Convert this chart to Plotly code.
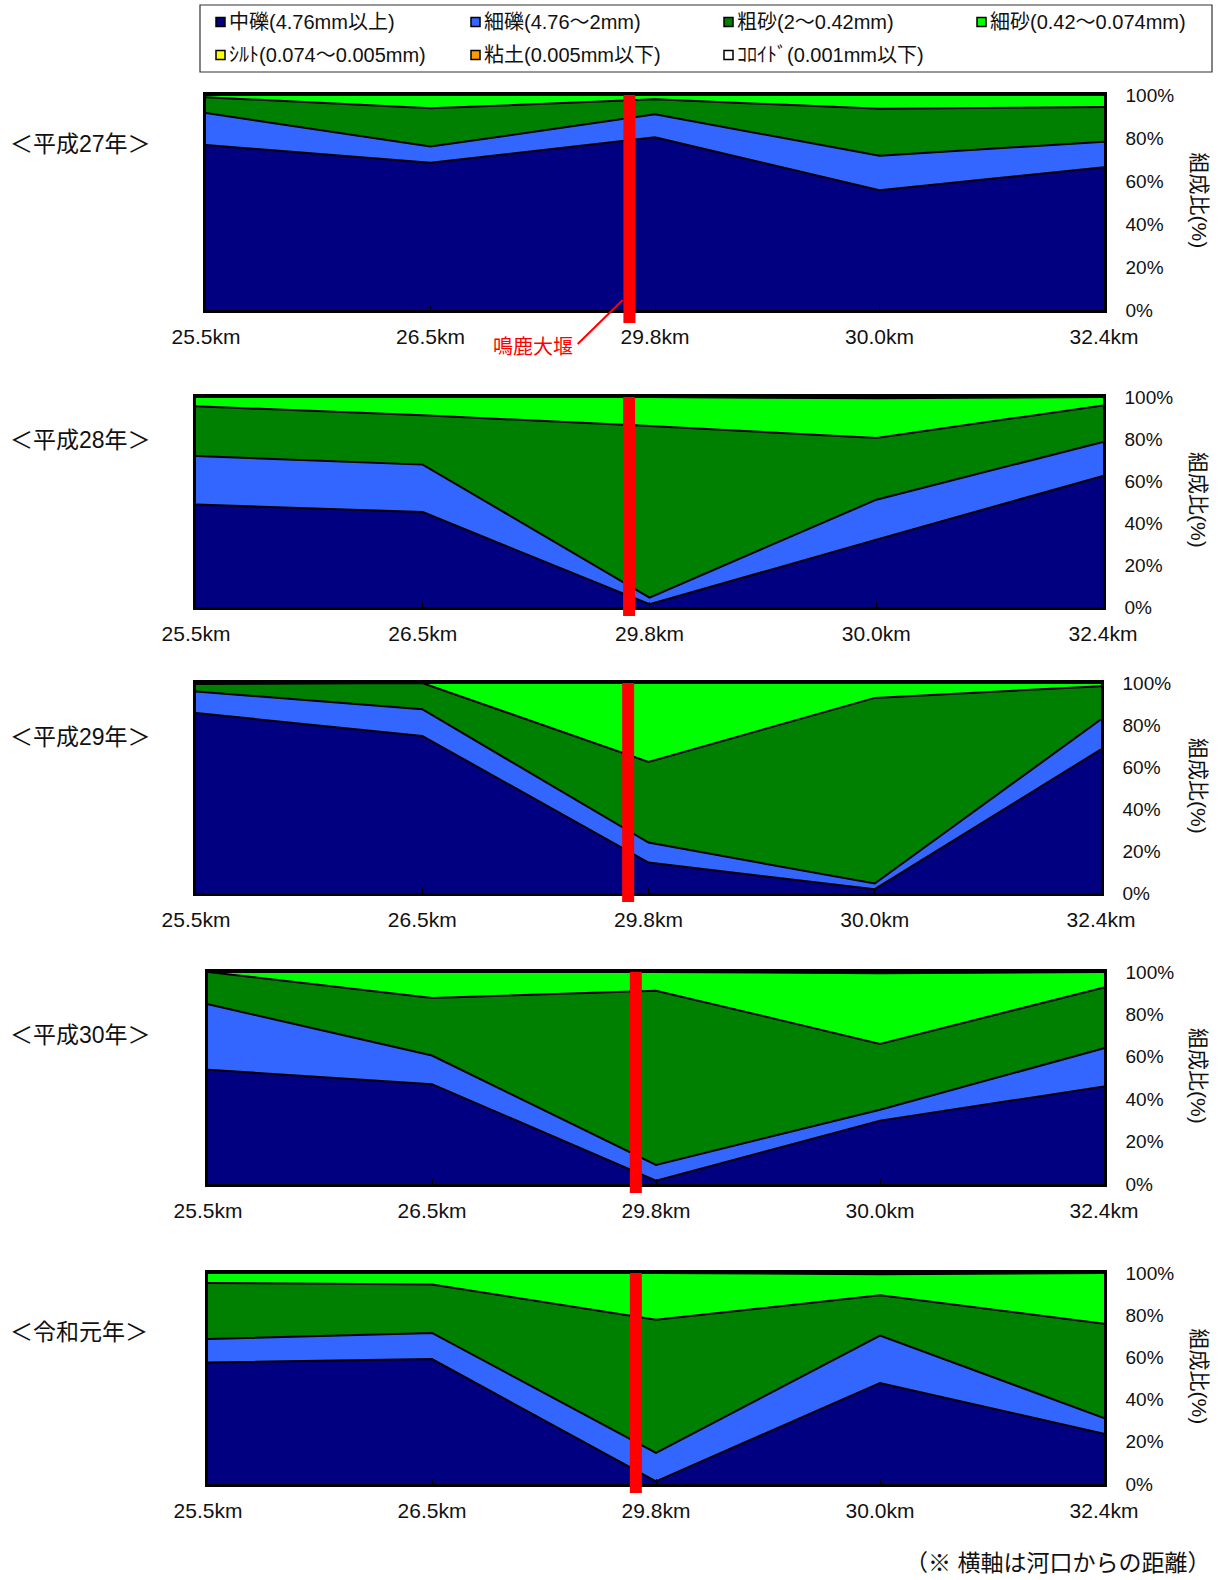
import plotly.graph_objects as go

# ---- data -------------------------------------------------------------
km_labels = ["25.5km", "26.5km", "29.8km", "30.0km", "32.4km"]
year_labels = ["＜平成27年＞", "＜平成28年＞", "＜平成29年＞", "＜平成30年＞", "＜令和元年＞"]

class_names = [
    "中礫(4.76mm以上)",
    "細礫(4.76～2mm)",
    "粗砂(2～0.42mm)",
    "細砂(0.42～0.074mm)",
    "ｼﾙﾄ(0.074～0.005mm)",
    "粘土(0.005mm以下)",
    "ｺﾛｲﾄﾞ(0.001mm以下)",
]
class_colors = ["#000080", "#3366FF", "#008000", "#00FF00", "#FFFF00", "#FF9900", "#FFFFFF"]

# composition (%) per year (H27, H28, H29, H30, R1) at each station
chu_reki = [
    [76.7, 68.5, 80.3, 55.7, 66.4],
    [48.8, 45.2, 1.3, 32.1, 62.4],
    [85.7, 74.8, 14.5, 1.8, 68.4],
    [53.9, 47.1, 1.6, 29.9, 46.0],
    [57.6, 59.2, 1.2, 47.9, 23.8],
]
sai_reki = [
    [14.9, 7.5, 10.7, 16.1, 11.9],
    [23.1, 22.6, 3.2, 19.0, 16.2],
    [10.3, 12.7, 9.5, 2.7, 14.3],
    [30.9, 13.5, 7.4, 5.1, 18.1],
    [11.1, 12.4, 13.5, 22.4, 7.5],
]
so_sa = [
    [7.4, 17.8, 7.0, 21.8, 16.1],
    [23.7, 23.5, 81.7, 29.4, 17.4],
    [3.5, 12.5, 38.4, 88.4, 15.8],
    [15.2, 27.1, 82.2, 31.1, 28.6],
    [26.6, 22.9, 63.2, 19.1, 44.7],
]
sai_sa = [
    [1.0, 6.2, 2.0, 6.4, 5.6],
    [4.4, 8.7, 13.8, 18.9, 4.0],
    [0.5, 0.0, 37.6, 7.1, 1.5],
    [0.0, 12.3, 8.8, 33.3, 7.3],
    [4.7, 5.5, 22.1, 10.0, 24.0],
]
silt = [
    [0, 0, 0, 0, 0],
    [0, 0, 0, 0.6, 0],
    [0, 0, 0, 0, 0],
    [0, 0, 0, 0.6, 0],
    [0, 0, 0, 0.6, 0],
]
clay = [[0, 0, 0, 0, 0] for _ in range(5)]
colloid = [[0, 0, 0, 0, 0] for _ in range(5)]

# position of the 鳴鹿大堰 weir along the category axis (between 26.5km and 29.8km)
weir_pos = [1.886, 1.91, 1.91, 1.91, 1.91]

# ---- layout geometry (pixels) ----------------------------------------
W, H = 1226, 1580
panel_x = [(206, 1104), (196, 1103), (196, 1101), (208, 1104), (208, 1104)]
panel_y = [(95, 310), (397, 607), (683, 893), (972, 1184), (1273, 1484)]
year_label_y = [144, 440, 737, 1035, 1332]

FONT = "Liberation Sans, Noto Sans CJK JP, sans-serif"


def px(x):
    return x / W


def py(y):
    return 1 - y / H


fig = go.Figure()
series = [chu_reki, sai_reki, so_sa, sai_sa, silt, clay, colloid]
xs = list(range(len(km_labels)))

shapes = []
annotations = []

for p in range(5):
    sfx = "" if p == 0 else str(p + 1)
    for c, data in enumerate(series):
        fig.add_trace(
            go.Scatter(
                x=xs,
                y=data[p],
                name=class_names[c],
                stackgroup=f"g{p}",
                mode="lines",
                line=dict(color="black", width=2),
                fillcolor=class_colors[c],
                showlegend=False,
                xaxis="x" + sfx,
                yaxis="y" + sfx,
                hoverinfo="skip",
            )
        )
    x0, x1 = panel_x[p]
    y0, y1 = panel_y[p]
    fig.layout["xaxis" + sfx] = dict(
        domain=[px(x0), px(x1)],
        range=[0, 4],
        tickmode="array",
        tickvals=xs,
        ticktext=km_labels,
        ticks="inside",
        ticklen=5,
        tickcolor="black",
        showline=True,
        mirror=True,
        linecolor="black",
        linewidth=2.5,
        showgrid=False,
        zeroline=False,
        anchor="y" + sfx,
        automargin=False,
        tickfont=dict(size=21, color="#111", family=FONT),
        ticklabelstandoff=6,
        fixedrange=True,
    )
    fig.layout["yaxis" + sfx] = dict(
        domain=[py(y1), py(y0)],
        range=[0, 100],
        side="right",
        tickmode="array",
        tickvals=[0, 20, 40, 60, 80, 100],
        ticktext=["0%", "20%", "40%", "60%", "80%", "100%"],
        ticks="",
        showline=True,
        mirror=True,
        linecolor="black",
        linewidth=2.5,
        showgrid=False,
        zeroline=False,
        anchor="x" + sfx,
        automargin=False,
        tickfont=dict(size=19, color="#111", family=FONT),
        ticklabelstandoff=15,
        fixedrange=True,
    )

    # weir marker
    below = 13 if p == 0 else 9
    shapes.append(
        dict(
            type="line",
            xref=f"x{sfx} domain",
            yref=f"y{sfx} domain",
            x0=weir_pos[p] / 4,
            x1=weir_pos[p] / 4,
            y0=-below / (y1 - y0),
            y1=1,
            line=dict(color="#FF0000", width=12),
            layer="above",
        )
    )

    # year label
    annotations.append(
        dict(
            text=year_labels[p],
            x=px(8),
            y=py(year_label_y[p]),
            xref="paper",
            yref="paper",
            xanchor="left",
            yanchor="middle",
            showarrow=False,
            font=dict(size=23, color="#111", family=FONT),
        )
    )
    # axis title
    annotations.append(
        dict(
            text="組成比(%)",
            x=px(1199),
            y=py((y0 + y1) / 2 - 2),
            xref="paper",
            yref="paper",
            xanchor="center",
            yanchor="middle",
            textangle=90,
            showarrow=False,
            font=dict(size=21, color="#111", family=FONT),
        )
    )

# leader line + label for the weir (top panel)
lx0, lx1 = panel_x[0]
ly0, ly1 = panel_y[0]
shapes.append(
    dict(
        type="line",
        xref="x domain",
        yref="y domain",
        x0=(577.7 - lx0) / (lx1 - lx0),
        y0=(ly1 - 344) / (ly1 - ly0),
        x1=(622.7 - lx0) / (lx1 - lx0),
        y1=(ly1 - 300) / (ly1 - ly0),
        line=dict(color="#FF0000", width=2),
    )
)
annotations.append(
    dict(
        text="鳴鹿大堰",
        x=px(575),
        y=py(347),
        xref="paper",
        yref="paper",
        xanchor="right",
        yanchor="middle",
        showarrow=False,
        font=dict(size=20, color="#FF0000", family=FONT),
    )
)

# legend box
shapes.append(
    dict(
        type="rect",
        xref="paper",
        yref="paper",
        x0=px(200),
        x1=px(1212),
        y0=py(72),
        y1=py(5),
        line=dict(color="#333", width=1.2),
        fillcolor="white",
    )
)
leg_cols = [216, 471, 724, 977]
leg_rows = [22, 55]
for i, name in enumerate(class_names):
    r, c = divmod(i, 4)
    sx = leg_cols[c]
    sy = leg_rows[r]
    shapes.append(
        dict(
            type="rect",
            xref="paper",
            yref="paper",
            x0=px(sx),
            x1=px(sx + 9),
            y0=py(sy + 4.5),
            y1=py(sy - 4.5),
            line=dict(color="black", width=1.5),
            fillcolor=class_colors[i],
        )
    )
    annotations.append(
        dict(
            text=name,
            x=px(sx + 11),
            y=py(sy),
            xref="paper",
            yref="paper",
            xanchor="left",
            yanchor="middle",
            showarrow=False,
            font=dict(size=20, color="#111", family=FONT),
        )
    )

# footnote
annotations.append(
    dict(
        text="（※ 横軸は河口からの距離）",
        x=px(1212),
        y=py(1563),
        xref="paper",
        yref="paper",
        xanchor="right",
        yanchor="middle",
        showarrow=False,
        font=dict(size=23, color="#111", family=FONT),
    )
)

fig.update_layout(
    width=W,
    height=H,
    margin=dict(l=0, r=0, t=0, b=0, autoexpand=False),
    paper_bgcolor="white",
    plot_bgcolor="white",
    showlegend=False,
    shapes=shapes,
    annotations=annotations,
    font=dict(family=FONT, color="#111"),
    hovermode=False,
)

fig.write_html("out.html")
